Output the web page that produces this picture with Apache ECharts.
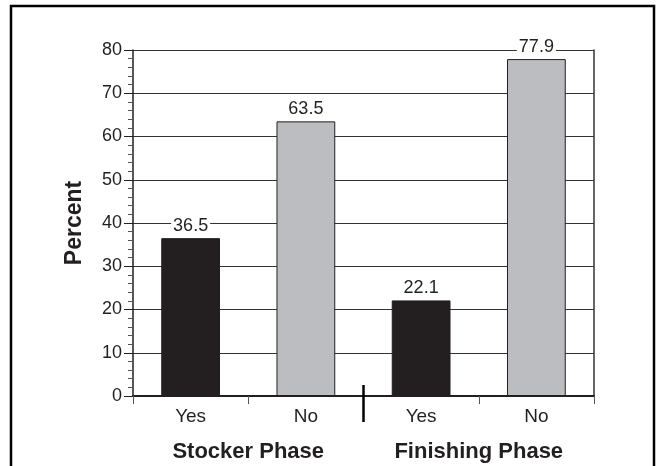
<!DOCTYPE html>
<html>
<head>
<meta charset="utf-8">
<script src="https://cdn.jsdelivr.net/npm/echarts@6/dist/echarts.min.js"></script>
<style>html,body{margin:0;padding:0;background:#fff;}#c{width:657px;height:466px;}</style>
</head>
<body>
<div id="c"></div>
<script>
const categories = ['Yes', 'No', 'Yes', 'No'];
const groups = ['Stocker Phase', 'Finishing Phase'];
const values = [36.5, 63.5, 22.1, 77.9];
const barColors = ['#231f20', '#bcbdc0', '#231f20', '#bcbdc0'];
const yTicks = { min: 0, max: 80, interval: 10 };

const chart = echarts.init(document.getElementById('c'), null, { renderer: 'canvas' });
const font = '"Liberation Sans", Arial, sans-serif';
const option = {
  animation: false,
  backgroundColor: '#fff',
  grid: { left: 133, right: 63, top: 50, bottom: 70, containLabel: false },
  xAxis: [
    {
      type: 'category', data: categories, position: 'bottom',
      axisLine: { lineStyle: { color: '#231f20', width: 2 } },
      axisTick: { show: true, interval: 0, length: 8, lineStyle: { color: '#555', width: 1 } },
      axisLabel: { color: '#231f20', fontSize: 19, fontFamily: font, margin: 11 }
    },
    {
      type: 'category', data: groups, position: 'bottom', offset: 42,
      axisLine: { show: false }, axisTick: { show: false },
      axisLabel: { color: '#231f20', fontSize: 22, fontWeight: 'bold', fontFamily: font, margin: 3 }
    }
  ],
  yAxis: [
    {
      type: 'value', min: yTicks.min, max: yTicks.max, interval: yTicks.interval,
      name: 'Percent', nameLocation: 'middle', nameGap: 47,
      nameTextStyle: { color: '#231f20', fontSize: 23, fontWeight: 'bold', fontFamily: font },
      axisLine: { show: true, lineStyle: { color: '#231f20', width: 1.5 } },
      axisTick: { show: true, length: 9, lineStyle: { color: '#231f20' } },
      minorTick: { show: true, splitNumber: 5, length: 5, lineStyle: { color: '#555' } },
      axisLabel: { color: '#231f20', fontSize: 18, fontFamily: font, margin: 11 },
      splitLine: { show: true, lineStyle: { color: '#333', width: 1 } }
    },
    {
      type: 'value', min: yTicks.min, max: yTicks.max, interval: yTicks.interval, position: 'right',
      axisLine: { show: true, lineStyle: { color: '#333', width: 1.5 } },
      axisTick: { show: false }, axisLabel: { show: false }, splitLine: { show: false }
    }
  ],
  series: [{
    type: 'bar', xAxisIndex: 0, yAxisIndex: 0, barWidth: '51%',
    data: values.map((v, i) => ({ value: v, itemStyle: { color: barColors[i] } })),
    itemStyle: { borderColor: '#231f20', borderWidth: 1 },
    label: {
      show: true, position: 'top', distance: 3, color: '#231f20', fontSize: 18, fontFamily: font,
      backgroundColor: '#fff', padding: [0, 2, 0, 2]
    },
    z: 3
  }]
};
chart.setOption(option);

// separator between the two phase groups and outer frame
const p2 = chart.convertToPixel({ xAxisIndex: 0 }, 1);
const p3 = chart.convertToPixel({ xAxisIndex: 0 }, 2);
const sepX = (p2 + p3) / 2;
const y0 = chart.convertToPixel({ yAxisIndex: 0 }, 0);
chart.setOption({
  graphic: [
    { type: 'line', shape: { x1: sepX, y1: y0 - 11, x2: sepX, y2: y0 + 26 }, style: { stroke: '#000', lineWidth: 2.5 }, z: 10 },
    { type: 'rect', shape: { x: 11, y: 6, width: 643, height: 470 }, style: { fill: 'none', stroke: '#000', lineWidth: 2.5 }, z: 10 }
  ]
});
</script>
</body>
</html>
